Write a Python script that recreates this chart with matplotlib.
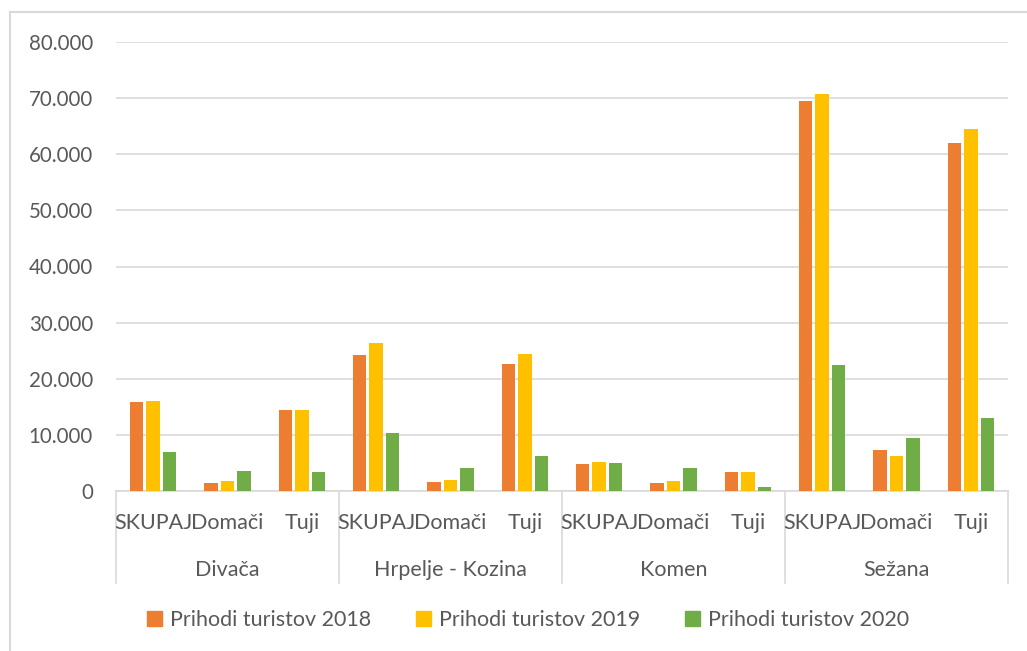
import numpy as np
import matplotlib
matplotlib.use("Agg")
import matplotlib.pyplot as plt
from matplotlib.lines import Line2D
from matplotlib.patches import Patch

# data
obcine = ["Divača", "Hrpelje - Kozina", "Komen", "Sežana"]
vrste = ["SKUPAJ", "Domači", "Tuji"]
serije = ["Prihodi turistov 2018", "Prihodi turistov 2019", "Prihodi turistov 2020"]

prihodi_2018 = [15800, 1400, 14400, 24200, 1650, 22600, 4750, 1500, 3300, 69400, 7300, 62000]
prihodi_2019 = [16100, 1700, 14400, 26400, 2000, 24400, 5200, 1850, 3400, 70700, 6200, 64500]
prihodi_2020 = [6900, 3550, 3400, 10300, 4100, 6200, 4900, 4150, 650, 22500, 9400, 13000]

barve = ["#ED7D31", "#FFC000", "#70AD47"]
siva = "#595959"
crta = "#D9D9D9"

plt.rcParams['font.family'] = ['Lato', 'DejaVu Sans']

fig = plt.figure(figsize=(10.27, 6.51), dpi=100)
ax = fig.add_axes([116/1027, 1 - 491/651, (1008-116)/1027, (491-42)/651])

x = np.arange(len(prihodi_2018))
korak = 0.222
sirina = 0.18
for i, vals in enumerate([prihodi_2018, prihodi_2019, prihodi_2020]):
    ax.bar(x + (i - 1) * korak, vals, width=sirina, color=barve[i], zorder=3)

ax.set_xlim(-0.5, 11.5)
ax.set_ylim(0, 80000)
ax.set_yticks(np.arange(0, 80001, 10000))
ax.set_yticklabels(["0" if v == 0 else f"{v//1000}.000" for v in range(0, 80001, 10000)])
ax.tick_params(axis='y', length=0, pad=16.5, labelsize=14.8, labelcolor=siva)
ax.tick_params(axis='x', length=0, labelbottom=False)
ax.grid(axis='y', color=crta, linewidth=1.2, zorder=0)
for s in ['top', 'right', 'left']:
    ax.spines[s].set_visible(False)
ax.spines['bottom'].set_color(crta)
ax.spines['bottom'].set_linewidth(1.2)

# multi-level category axis
tr = ax.get_xaxis_transform()
for xs in np.arange(-0.5, 12, 3):
    ax.plot([xs, xs], [0, -0.205], color=crta, linewidth=1.2, transform=tr, clip_on=False)
for k in range(len(x)):
    ax.text(x[k], -0.071, vrste[k % 3], transform=tr, ha='center', va='center',
            fontsize=15.5, color=siva)
for g, ime in enumerate(obcine):
    ax.text(g * 3 + 1, -0.176, ime, transform=tr, ha='center', va='center',
            fontsize=15.5, color=siva)

handles = [Patch(color=barve[i], label=serije[i]) for i in range(3)]
fig.legend(handles=handles, loc='center', bbox_to_anchor=(528/1027, 1 - 620/651), ncol=3,
           frameon=False, fontsize=15.5, labelcolor=siva, handlelength=0.7, handleheight=0.7,
           handletextpad=0.35, columnspacing=2.1)

# chart border
fig.add_artist(Line2D([10/1027, 10/1027], [0, 1 - 12/651], color=crta, linewidth=1.5))
fig.add_artist(Line2D([10/1027, 1], [1 - 12/651, 1 - 12/651], color=crta, linewidth=1.5))

fig.savefig("out.png", dpi=100)
